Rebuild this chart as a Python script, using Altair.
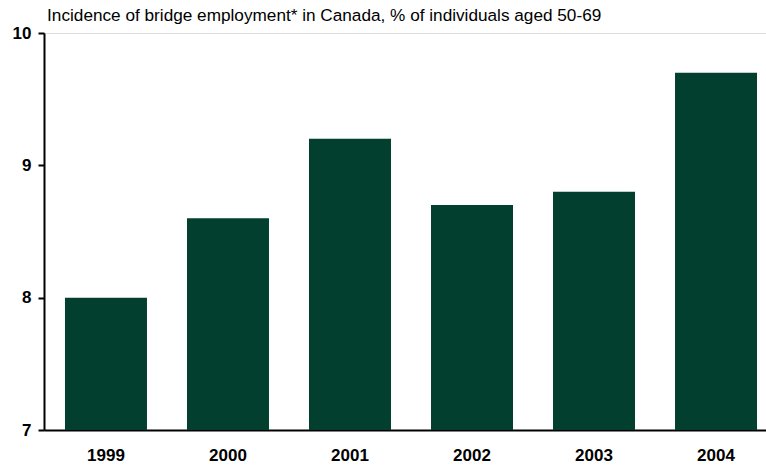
import altair as alt
import pandas as pd

years = ["1999", "2000", "2001", "2002", "2003", "2004"]
values = [8.0, 8.6, 9.2, 8.7, 8.8, 9.7]
baseline = 7
y_ticks = [7, 8, 9, 10]
title_text = "Incidence of bridge employment* in Canada, % of individuals aged 50-69"

df = pd.DataFrame({"year": years, "value": values, "base": [baseline] * len(years)})

FONT = "Liberation Sans"
BAR = "#023F2F"

chart = (
    alt.Chart(df)
    .mark_bar(color=BAR)
    .encode(
        x=alt.X(
            "year:N",
            sort=years,
            scale=alt.Scale(range=[0, 734], paddingInner=0.328, paddingOuter=0.172),
            axis=alt.Axis(
                title=None,
                labelAngle=0,
                labelFont=FONT,
                labelFontSize=17,
                labelFontWeight="bold",
                labelColor="black",
                ticks=False,
                labelPadding=17,
                domainColor="black",
                domainWidth=2,
                grid=False,
            ),
        ),
        y=alt.Y(
            "value:Q",
            scale=alt.Scale(domain=[7, 10], zero=False, nice=False),
            axis=alt.Axis(
                title=None,
                values=y_ticks,
                format="d",
                labelFont=FONT,
                labelFontSize=17,
                labelFontWeight="bold",
                labelColor="black",
                tickSize=6,
                tickWidth=2,
                tickColor="black",
                labelPadding=7,
                domainColor="black",
                domainWidth=2,
                grid=False,
            ),
        ),
        y2="base:Q",
    )
    .properties(
        width=722,
        height=397,
        title=alt.TitleParams(
            text=title_text,
            anchor="start",
            font=FONT,
            fontSize=17.2,
            fontWeight="normal",
            color="black",
            baseline="bottom",
            offset=2,
            dx=35,
            dy=20,
        ),
        autosize=alt.AutoSizeParams(type="none"),
        padding={"left": 44, "top": 33, "right": 0, "bottom": 35},
    )
    .configure_view(stroke="transparent", strokeWidth=0)
    .configure_axis(grid=False)
    .configure(background="white")
)

chart.save("out.html", embed_options={"renderer": "svg", "actions": False})
